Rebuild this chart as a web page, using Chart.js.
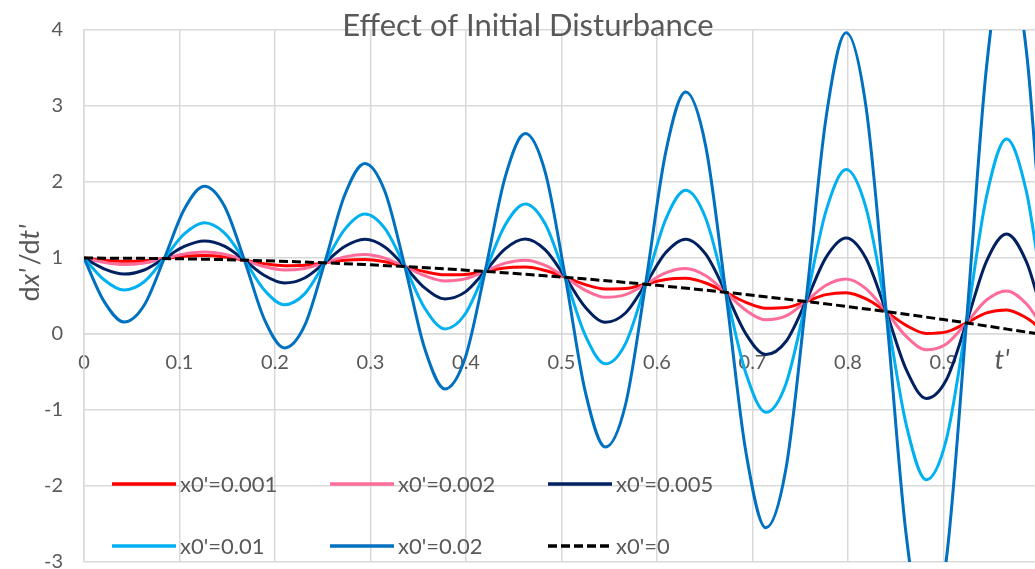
<!DOCTYPE html>
<html>
<head>
<meta charset="utf-8">
<script src="https://cdn.jsdelivr.net/npm/chart.js@4.4.1/dist/chart.umd.min.js"></script>
<style>
  html, body { margin: 0; padding: 0; background: #fff; overflow: hidden; }
  #wrap { width: 1045px; height: 569px; }
</style>
</head>
<body>
<div id="wrap"><canvas id="chart" width="1045" height="569"></canvas></div>
<script>
// t' values (roughly every 1/8 of an oscillation)
const tValues = [0, 0.021, 0.042, 0.063, 0.084, 0.105, 0.126, 0.147, 0.168, 0.189, 0.21, 0.231,
  0.252, 0.273, 0.294, 0.315, 0.336, 0.357, 0.378, 0.399, 0.42, 0.441, 0.462, 0.483,
  0.504, 0.525, 0.546, 0.567, 0.588, 0.609, 0.63, 0.651, 0.672, 0.693, 0.714, 0.735,
  0.756, 0.777, 0.798, 0.819, 0.84, 0.861, 0.882, 0.903, 0.924, 0.945, 0.966, 0.987, 1.0];

const x0_001 = [1.000, 0.971, 0.956, 0.965, 0.993, 1.022, 1.032, 1.013, 0.972, 0.925, 0.899, 0.905,
  0.936, 0.970, 0.981, 0.950, 0.887, 0.819, 0.778, 0.783, 0.824, 0.869, 0.880, 0.835,
  0.746, 0.650, 0.592, 0.598, 0.654, 0.717, 0.732, 0.671, 0.548, 0.417, 0.338, 0.348,
  0.428, 0.518, 0.543, 0.461, 0.294, 0.113, 0.008, 0.028, 0.146, 0.277, 0.317, 0.210, 0.09];

const x0_002 = [1.000, 0.943, 0.914, 0.934, 0.993, 1.054, 1.080, 1.049, 0.972, 0.886, 0.842, 0.863,
  0.936, 1.015, 1.047, 0.999, 0.887, 0.766, 0.699, 0.725, 0.824, 0.932, 0.972, 0.903,
  0.746, 0.575, 0.483, 0.518, 0.654, 0.804, 0.861, 0.766, 0.548, 0.313, 0.186, 0.237,
  0.428, 0.641, 0.723, 0.594, 0.294, -0.032, -0.206, -0.130, 0.146, 0.447, 0.567, 0.394, 0.17];

const x0_005 = [1.000, 0.857, 0.788, 0.842, 0.993, 1.152, 1.224, 1.155, 0.972, 0.770, 0.671, 0.737,
  0.936, 1.151, 1.247, 1.146, 0.887, 0.604, 0.462, 0.551, 0.824, 1.121, 1.250, 1.107,
  0.746, 0.352, 0.154, 0.276, 0.654, 1.068, 1.248, 1.050, 0.548, 0.003, -0.270, -0.099,
  0.428, 1.008, 1.263, 0.991, 0.294, -0.469, -0.848, -0.602, 0.146, 0.957, 1.317, 0.945, 0.43];

const x0_01 = [1.000, 0.714, 0.578, 0.687, 0.993, 1.316, 1.464, 1.331, 0.972, 0.576, 0.386, 0.528,
  0.936, 1.377, 1.579, 1.390, 0.887, 0.336, 0.067, 0.260, 0.824, 1.435, 1.712, 1.447,
  0.746, -0.021, -0.393, -0.126, 0.654, 1.506, 1.893, 1.524, 0.548, -0.514, -1.030, -0.657,
  0.428, 1.620, 2.163, 1.652, 0.294, -1.196, -1.918, -1.388, 0.146, 1.807, 2.567, 1.864, 0.87];

const x0_02 = [1.000, 0.429, 0.158, 0.379, 0.993, 1.642, 1.944, 1.684, 0.972, 0.189, -0.184, 0.109,
  0.936, 1.829, 2.244, 1.879, 0.887, -0.201, -0.723, -0.320, 0.824, 2.064, 2.637, 2.127,
  0.746, -0.765, -1.488, -0.931, 0.654, 2.383, 3.183, 2.472, 0.548, -1.547, -2.550, -1.774,
  0.428, 2.844, 3.963, 2.975, 0.294, -2.651, -4.058, -2.961, 0.146, 3.507, 5.067, 3.701, 1.72];

// undisturbed case (dashed)
const tBase = [0, 0.1, 0.2, 0.3, 0.4, 0.5, 0.6, 0.7, 0.8, 0.9, 1.0];
const x0_0 = [1.0, 0.99, 0.96, 0.91, 0.84, 0.75, 0.64, 0.51, 0.36, 0.19, 0.0];

const seriesLabels = ["x0'=0.001", "x0'=0.002", "x0'=0.005", "x0'=0.01", "x0'=0.02", "x0'=0"];
const seriesColors = ["#FF0000", "#FF6C9A", "#002060", "#00B0F0", "#0070C0", "#000000"];
const chartTitle = "Effect of Initial Disturbance";

const toPoints = (xs, ys) => xs.map((x, i) => ({ x: x, y: ys[i] }));

const allSeries = [x0_001, x0_002, x0_005, x0_01, x0_02];
const datasets = allSeries.map((s, i) => ({
  label: seriesLabels[i],
  data: toPoints(tValues, s),
  borderColor: seriesColors[i],
  borderWidth: 3,
  pointRadius: 0,
  cubicInterpolationMode: "monotone",
  order: 5 - i,
}));
datasets.push({
  label: seriesLabels[5],
  data: toPoints(tBase, x0_0),
  borderColor: seriesColors[5],
  borderWidth: 3,
  borderDash: [9, 4],
  pointRadius: 0,
  cubicInterpolationMode: "monotone",
  order: 0,
});

const gray = "#595959";
const gridColor = "#d9d9d9";

// title, axis titles and legend drawn on top of the plot, like the Excel original
const overlay = {
  id: "overlay",
  afterDraw(chart) {
    const ctx = chart.ctx;
    ctx.save();
    ctx.fillStyle = gray;
    ctx.textBaseline = "middle";

    ctx.font = "31px Lato";
    ctx.textAlign = "center";
    ctx.fillText(chartTitle, 528, 26);

    ctx.font = "italic 27px Lato";
    ctx.fillText("t'", 1002, 360);

    // y axis title: d x'/d t' with italic x' and t'
    const parts = [["d", "27px Lato"], ["x'", "italic 27px Lato"], ["/d", "27px Lato"], ["t'", "italic 27px Lato"]];
    let total = 0;
    parts.forEach(p => { ctx.font = p[1]; total += ctx.measureText(p[0]).width + (p[0] === "/d" ? 3 : 0); });
    ctx.translate(30, 263);
    ctx.rotate(-Math.PI / 2);
    ctx.textAlign = "left";
    let px = -total / 2;
    parts.forEach(p => {
      ctx.font = p[1];
      if (p[0] === "/d") px += 3;
      ctx.fillText(p[0], px, 0);
      px += ctx.measureText(p[0]).width;
    });
    ctx.setTransform(1, 0, 0, 1, 0, 0);

    // legend, 3 columns x 2 rows inside the plot
    const cols = [112, 330, 548];
    const rows = [484, 546];
    ctx.font = "22px Lato";
    ctx.textAlign = "left";
    seriesLabels.forEach((lab, i) => {
      const x = cols[i % 3];
      const y = rows[Math.floor(i / 3)];
      ctx.beginPath();
      ctx.strokeStyle = seriesColors[i];
      ctx.lineWidth = 3.5;
      ctx.setLineDash(i === 5 ? [9, 4] : []);
      ctx.moveTo(x, y);
      ctx.lineTo(x + 64, y);
      ctx.stroke();
      ctx.setLineDash([]);
      ctx.fillStyle = gray;
      ctx.fillText(lab, x + 68, y + 1);
    });
    ctx.restore();
  },
};

Chart.defaults.font.family = "Lato";
Chart.defaults.color = gray;

new Chart(document.getElementById("chart"), {
  type: "line",
  data: { datasets: datasets },
  options: {
    responsive: false,
    animation: false,
    layout: { padding: { top: 30, bottom: 7, left: 0, right: 6 } },
    plugins: { legend: { display: false }, title: { display: false }, tooltip: { enabled: false } },
    scales: {
      x: {
        type: "linear",
        min: 0,
        max: 1,
        position: { y: 0 },
        grid: { color: gridColor, lineWidth: 1.5, drawTicks: false },
        border: { color: gridColor, width: 1.5 },
        ticks: {
          stepSize: 0.1,
          padding: 17,
          font: { size: 20 },
          color: gray,
          maxRotation: 0,
          callback: v => (Math.abs(v - 1) < 1e-6 ? null : String(Math.round(v * 10) / 10)),
        },
        afterFit: s => { s.height = 0; },
      },
      y: {
        min: -3,
        max: 4,
        grid: { color: gridColor, lineWidth: 1.5, drawTicks: false },
        border: { color: gridColor, width: 1.5 },
        ticks: { stepSize: 1, padding: 21, font: { size: 20 }, color: gray },
        afterFit: s => { s.width = 84; s.paddingTop = 0; s.paddingBottom = 0; },
      },
    },
  },
  plugins: [overlay],
});
</script>
</body>
</html>
